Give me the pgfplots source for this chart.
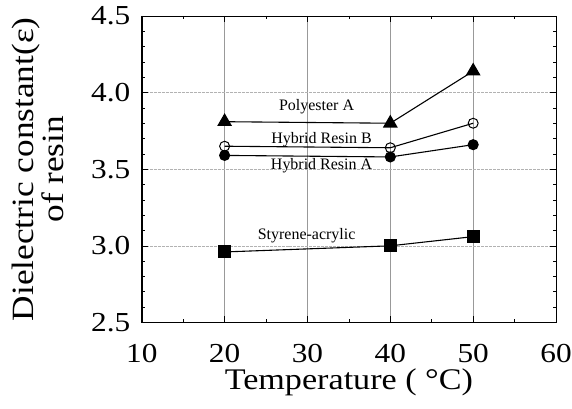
\documentclass[border=0pt]{standalone}
\usepackage{fontspec}
\setmainfont{Liberation Serif}
\newfontfamily\wide[FakeStretch=1.14]{Liberation Serif}
\usepackage{pgfplots}
\pgfplotsset{compat=1.18}
\begin{document}
\begin{tikzpicture}[x=1pt,y=1pt]
\begin{axis}[
  name=ax,
  scale only axis,
  width=415pt, height=307pt,
  xmin=10, xmax=60, ymin=2.5, ymax=4.5,
  xtick={10,20,...,60},
  ytick={2.5,3.0,...,4.5},
  minor x tick num=1,
  minor y tick num=4,
  tick align=inside,
  major tick length=6pt, minor tick length=3pt,
  xmajorgrids, ymajorgrids,
  x grid style={gray!80, line width=0.6pt},
  y grid style={gray!60, line width=0.5pt, dash pattern=on 3pt off 1pt},
  axis line style={line width=0.6pt},
  tick style={black, line width=0.6pt},
  /pgf/number format/assume math mode=true,
  yticklabel={\pgfmathprintnumber[fixed,fixed zerofill,precision=1]{\tick}},
  xticklabel={\pgfmathprintnumber[fixed,precision=0]{\tick}},
  xticklabel style={font=\wide\fontsize{27.5}{27.5}\selectfont, yshift=-18pt},
  yticklabel style={font=\wide\fontsize{27.5}{27.5}\selectfont, xshift=-8pt},
  xlabel={Temperature ( \textdegree C)},
  ylabel={Dielectric constant(ε)\\of resin},
  ylabel style={align=center, font=\wide\fontsize{31}{31}\selectfont, yshift=20pt},
  xlabel style={font=\wide\fontsize{30}{30}\selectfont, yshift=1pt},
  every axis plot/.append style={black, line width=1.1pt},
  clip=false,
]
\draw[line width=1.6pt] (rel axis cs:0,1) -- (rel axis cs:0,0) -- (rel axis cs:1,0);
% Polyester A
\addplot[mark=triangle*, mark size=7.5pt] coordinates {(20,3.81) (40,3.80) (50,4.14)};
% Hybrid Resin B
\addplot[mark=o, mark size=5pt, mark options={fill=white, line width=1pt}] coordinates {(20,3.65) (40,3.64) (50,3.80)};
% Hybrid Resin A
\addplot[mark=*, mark size=5pt] coordinates {(20,3.59) (40,3.58) (50,3.66)};
% Styrene-acrylic
\addplot[mark=square*, mark size=6pt] coordinates {(20,2.96) (40,3.00) (50,3.06)};

\node[font=\fontsize{16}{16}\selectfont] at (axis cs:31.1,3.91) {Polyester A};
\node[font=\fontsize{16}{16}\selectfont] at (axis cs:31.7,3.69) {Hybrid Resin B};
\node[font=\fontsize{16}{16}\selectfont] at (axis cs:31.7,3.52) {Hybrid Resin A};
\node[font=\fontsize{16}{16}\selectfont] at (axis cs:29.9,3.065) {Styrene-acrylic};
\end{axis}
\pgfresetboundingbox
\path ([shift={(-142pt,-86pt)}]ax.south west) rectangle ([shift={(16pt,16pt)}]ax.north east);
\end{tikzpicture}
\end{document}
